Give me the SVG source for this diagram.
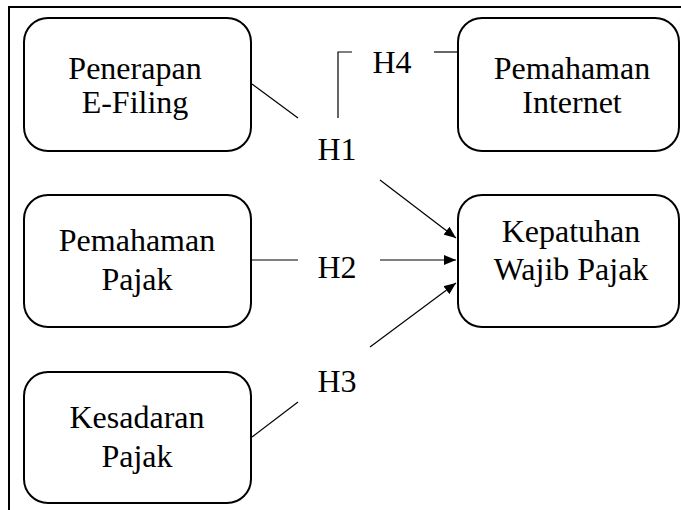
<svg xmlns="http://www.w3.org/2000/svg" width="681" height="510" viewBox="0 0 681 510">
<style>
.box{fill:#fff;stroke:#000;stroke-width:2}
.t{font-family:'Liberation Serif',serif;font-size:32px;fill:#000;text-anchor:middle}
.c{stroke:#000;stroke-width:1.2;fill:none}
</style>
<defs>
<marker id="ah" markerWidth="12" markerHeight="10" refX="12" refY="5" orient="auto" markerUnits="userSpaceOnUse">
<path d="M0,0 L12,5 L0,10 Z" fill="#000"/>
</marker>
</defs>
<rect width="681" height="510" fill="#fff"/>
<path d="M9,510 V7 H681" fill="none" stroke="#000" stroke-width="2"/>
<g id="n1"><rect class="box" x="24" y="18" width="227" height="133" rx="24"/><text class="t" font-family="Liberation Serif" x="135" y="79">Penerapan</text><text class="t" font-family="Liberation Serif" x="135" y="113">E-Filing</text></g>
<g id="n2"><rect class="box" x="458" y="18" width="221" height="133" rx="24"/><text class="t" font-family="Liberation Serif" x="572" y="79">Pemahaman</text><text class="t" font-family="Liberation Serif" x="572" y="113">Internet</text></g>
<g id="n3"><rect class="box" x="24" y="195" width="227" height="132" rx="24"/><text class="t" font-family="Liberation Serif" x="137" y="251">Pemahaman</text><text class="t" font-family="Liberation Serif" x="137" y="290">Pajak</text></g>
<g id="n4"><rect class="box" x="458" y="195" width="221" height="132" rx="24"/><text class="t" font-family="Liberation Serif" x="571" y="242">Kepatuhan</text><text class="t" font-family="Liberation Serif" x="571" y="280">Wajib Pajak</text></g>
<g id="n5"><rect class="box" x="24" y="372" width="227" height="131" rx="24"/><text class="t" font-family="Liberation Serif" x="137" y="428">Kesadaran</text><text class="t" font-family="Liberation Serif" x="137" y="467">Pajak</text></g>
<g id="labels">
<text class="t" font-family="Liberation Serif" x="337" y="160">H1</text>
<text class="t" font-family="Liberation Serif" x="337" y="278">H2</text>
<text class="t" font-family="Liberation Serif" x="337" y="392">H3</text>
<text class="t" font-family="Liberation Serif" x="392" y="73">H4</text>
</g>
<g id="connectors">
<line class="c" x1="252" y1="84" x2="298" y2="118"/>
<line class="c" x1="380" y1="180" x2="456" y2="238" marker-end="url(#ah)"/>
<line class="c" x1="251" y1="260" x2="298" y2="260"/>
<line class="c" x1="380" y1="260" x2="456" y2="260" marker-end="url(#ah)"/>
<line class="c" x1="252" y1="437" x2="298" y2="402"/>
<line class="c" x1="370" y1="347" x2="456" y2="283" marker-end="url(#ah)"/>
<path class="c" d="M338,118 V52 H352"/>
<line class="c" x1="434" y1="52" x2="458" y2="52"/>
</g>
</svg>
